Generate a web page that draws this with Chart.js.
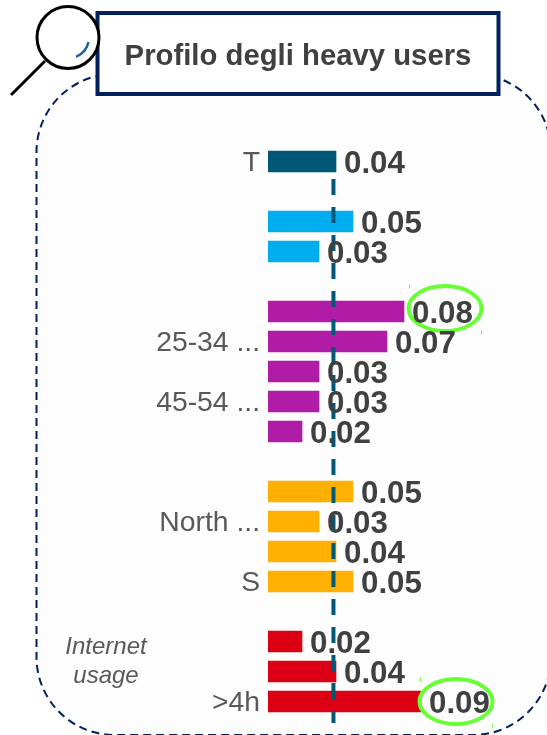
<!DOCTYPE html>
<html>
<head>
<meta charset="utf-8">
<title>Profilo degli heavy users</title>
<script src="https://cdn.jsdelivr.net/npm/chart.js@4"></script>
<style>
  html, body { margin: 0; padding: 0; background: #fff; }
  canvas { display: block; }
</style>
</head>
<body>
<canvas id="chart" width="547" height="735"></canvas>
<script>
// one row per category, blanks are the gaps between groups
const categories = ["T", "", "", "", "", "", "25-34 ...", "", "45-54 ...", "", "", "", "North ...", "", "S", "", "", "", ">4h"];
const values = [0.04, null, 0.05, 0.03, null, 0.08, 0.07, 0.03, 0.03, 0.02, null, 0.05, 0.03, 0.04, 0.05, null, 0.02, 0.04, 0.09];
const barColors = ["#005776", null, "#00aeef", "#00aeef", null, "#b01ca6", "#b01ca6", "#b01ca6", "#b01ca6", "#b01ca6", null, "#ffb000", "#ffb000", "#ffb000", "#ffb000", null, "#dc0014", "#dc0014", "#dc0014"];
const highlighted = [5, 18];
const averageValue = 0.0385;

const FONT = '"Liberation Sans", Arial, sans-serif';

// panel, title box, magnifier and the side note
const framePlugin = {
  id: "frame",
  beforeDraw(chart) {
    const ctx = chart.ctx;
    ctx.save();
    ctx.fillStyle = "#fdfdfd";
    ctx.strokeStyle = "#002060";
    ctx.lineWidth = 2;
    ctx.setLineDash([8, 5]);
    ctx.beginPath();
    ctx.roundRect(36.5, 74, 514.5, 661, 78);
    ctx.fill();
    ctx.stroke();
    ctx.setLineDash([]);

    ctx.fillStyle = "#fff";
    ctx.lineWidth = 4;
    ctx.beginPath();
    ctx.rect(97.5, 13, 401, 81);
    ctx.fill();
    ctx.stroke();

    ctx.fillStyle = "#404040";
    ctx.font = "bold 29.3px " + FONT;
    ctx.textAlign = "center";
    ctx.textBaseline = "middle";
    ctx.fillText("Profilo degli heavy users", 298, 57);

    // magnifier
    ctx.strokeStyle = "#000";
    ctx.lineWidth = 3;
    ctx.beginPath();
    ctx.moveTo(45, 61);
    ctx.lineTo(11, 95);
    ctx.stroke();
    ctx.fillStyle = "#fff";
    ctx.beginPath();
    ctx.arc(68, 37.5, 31, 0, Math.PI * 2);
    ctx.fill();
    ctx.stroke();
    ctx.strokeStyle = "#1f5f9f";
    ctx.lineWidth = 2.5;
    ctx.beginPath();
    ctx.arc(68, 37.5, 21, 0.22, 1.18);
    ctx.stroke();

    ctx.fillStyle = "#595959";
    ctx.font = "italic 24px " + FONT;
    ctx.fillText("Internet", 106, 647);
    ctx.fillText("usage", 106, 676);
    ctx.restore();
  },
};

// average line under the value labels, circles on the two top values
const overlayPlugin = {
  id: "overlay",
  afterDatasetsDraw(chart) {
    const ctx = chart.ctx;
    const bars = chart.getDatasetMeta(0).data;
    const xScale = chart.scales.x;
    const lineX = xScale.getPixelForValue(averageValue);
    ctx.save();
    ctx.strokeStyle = "#005776";
    ctx.lineWidth = 4;
    ctx.setLineDash([16, 12]);
    ctx.beginPath();
    ctx.moveTo(lineX, 179);
    ctx.lineTo(lineX, 723);
    ctx.stroke();
    ctx.setLineDash([]);

    ctx.strokeStyle = "#66ff33";
    ctx.lineWidth = 4;
    highlighted.forEach((i, n) => {
      const cx = bars[i].x + (n === 0 ? 41 : 35);
      const cy = bars[i].y - (n === 0 ? 3 : 0);
      ctx.beginPath();
      ctx.ellipse(cx, cy, 36.5, 22.5, 0, 0, Math.PI * 2);
      ctx.stroke();
      // leftover selection handles at the ellipse corners
      ctx.fillStyle = "#66ff33";
      ctx.fillRect(cx - 36, cy - 24, 1, 4);
      ctx.fillRect(cx + 36, cy + 22, 1, 4);
    });

    ctx.fillStyle = "#404040";
    ctx.font = "bold 31.3px " + FONT;
    ctx.textAlign = "left";
    ctx.textBaseline = "middle";
    values.forEach((v, i) => {
      if (v === null) return;
      ctx.fillText(v.toFixed(2), bars[i].x + 8, bars[i].y + 2.5);
    });
    ctx.restore();
  },
};

new Chart(document.getElementById("chart"), {
  type: "bar",
  data: {
    labels: categories,
    datasets: [{
      data: values,
      backgroundColor: barColors,
      barThickness: 21,
    }],
  },
  options: {
    indexAxis: "y",
    responsive: false,
    animation: false,
    layout: { padding: { top: 146.5, bottom: 18.5 } },
    plugins: { legend: { display: false }, tooltip: { enabled: false } },
    scales: {
      x: { display: false, min: 0, max: 0.1641 },
      y: {
        // labels must not eat into the plot height, rows are 30px
        afterFit(scale) {
          scale.width = 268;
          scale.paddingTop = 0;
          scale.paddingBottom = 0;
        },
        border: { display: false },
        grid: { display: false, drawTicks: false },
        ticks: {
          autoSkip: false,
          padding: 8,
          labelOffset: 2,
          color: "#595959",
          font: { family: FONT, size: 28.3 },
        },
      },
    },
  },
  plugins: [framePlugin, overlayPlugin],
});
</script>
</body>
</html>
